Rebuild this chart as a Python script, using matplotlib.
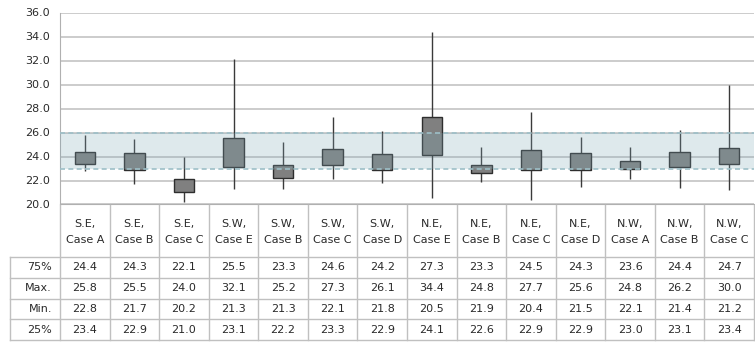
import numpy as np
import matplotlib.pyplot as plt

cats = ['S.E,\nCase A', 'S.E,\nCase B', 'S.E,\nCase C', 'S.W,\nCase E', 'S.W,\nCase B',
        'S.W,\nCase C', 'S.W,\nCase D', 'N.E,\nCase E', 'N.E,\nCase B', 'N.E,\nCase C',
        'N.E,\nCase D', 'N.W,\nCase A', 'N.W,\nCase B', 'N.W,\nCase C']
q75 = [24.4, 24.3, 22.1, 25.5, 23.3, 24.6, 24.2, 27.3, 23.3, 24.5, 24.3, 23.6, 24.4, 24.7]
vmax = [25.8, 25.5, 24.0, 32.1, 25.2, 27.3, 26.1, 34.4, 24.8, 27.7, 25.6, 24.8, 26.2, 30.0]
vmin = [22.8, 21.7, 20.2, 21.3, 21.3, 22.1, 21.8, 20.5, 21.9, 20.4, 21.5, 22.1, 21.4, 21.2]
q25 = [23.4, 22.9, 21.0, 23.1, 22.2, 23.3, 22.9, 24.1, 22.6, 22.9, 22.9, 23.0, 23.1, 23.4]
row_names = ['75%', 'Max.', 'Min.', '25%']
band_lo, band_hi = 23.0, 26.0

W, H = 755, 345
fig = plt.figure(figsize=(W / 100, H / 100), dpi=100)
plt.rcParams['font.family'] = 'DejaVu Sans'
fs = 8
tc = '#2a2a2a'

# plot area in pixels
left, right, top, bottom = 60, 754, 12.5, 204.5
ax = fig.add_axes([left / W, 1 - bottom / H, (right - left) / W, (bottom - top) / H])
n = len(cats)
x = np.arange(n)
ax.set_xlim(-0.5, n - 0.5)
ax.set_ylim(20, 36)
ax.set_yticks(np.arange(20, 36.1, 2))
ax.set_yticklabels([f'{v:.1f}' for v in np.arange(20, 36.1, 2)], fontsize=fs, color=tc)
ax.tick_params(axis='y', length=0, pad=7)
ax.set_xticks([])
ax.grid(axis='y', color='#c8c8c8', linewidth=1.3, zorder=0)
for s in ['top', 'right']:
    ax.spines[s].set_visible(False)
ax.spines['left'].set_color('#b0b0b0')
ax.spines['bottom'].set_color('#b0b0b0')

# whiskers and boxes
ax.vlines(x, vmin, vmax, color='#3a3a3a', linewidth=1, zorder=2)
lo = np.minimum(q25, q75)
hi = np.maximum(q25, q75)
ax.bar(x, hi - lo, bottom=lo, width=0.41, color='#808080', edgecolor='#2e2e2e',
       linewidth=1, zorder=3)

# comfort band overlay
ax.axhspan(band_lo, band_hi, color='#7fa8b6', alpha=0.25, linewidth=0, zorder=4)
ax.axhline(band_lo, color='#9dbfc7', linestyle=(0, (3, 2)), linewidth=1.2, zorder=5)
ax.axhline(band_hi, color='#9dbfc7', linestyle=(0, (3, 2)), linewidth=1.2, zorder=5)

# data table drawn in pixel coordinates
tb = fig.add_axes([0, 0, 1, 1])
tb.set_xlim(0, W)
tb.set_ylim(H, 0)
tb.axis('off')
lc = '#c0c0c0'
colw = (right - left) / n
hdr_top, hdr_bot = 204.5, 257
row_h = 20.8
rows_y = [hdr_bot + i * row_h for i in range(len(row_names) + 1)]
for i in range(n + 1):
    xx = left + i * colw
    tb.plot([xx, xx], [hdr_top, rows_y[-1]], color=lc, linewidth=1)
tb.plot([10, 10], [hdr_bot, rows_y[-1]], color=lc, linewidth=1)
for yy in rows_y:
    tb.plot([10, right], [yy, yy], color=lc, linewidth=1)
for i, c in enumerate(cats):
    tb.text(left + (i + 0.5) * colw, (hdr_top + hdr_bot) / 2 + 1, c, ha='center', va='center',
            fontsize=fs, color=tc, linespacing=1.75)
for r, (name, vals) in enumerate(zip(row_names, [q75, vmax, vmin, q25])):
    yc = rows_y[r] + row_h / 2
    tb.text(52, yc, name, ha='right', va='center', fontsize=fs, color=tc)
    for i, v in enumerate(vals):
        tb.text(left + (i + 0.5) * colw, yc, f'{v:.1f}', ha='center', va='center',
                fontsize=fs, color=tc)

fig.savefig('out.png', dpi=100)
